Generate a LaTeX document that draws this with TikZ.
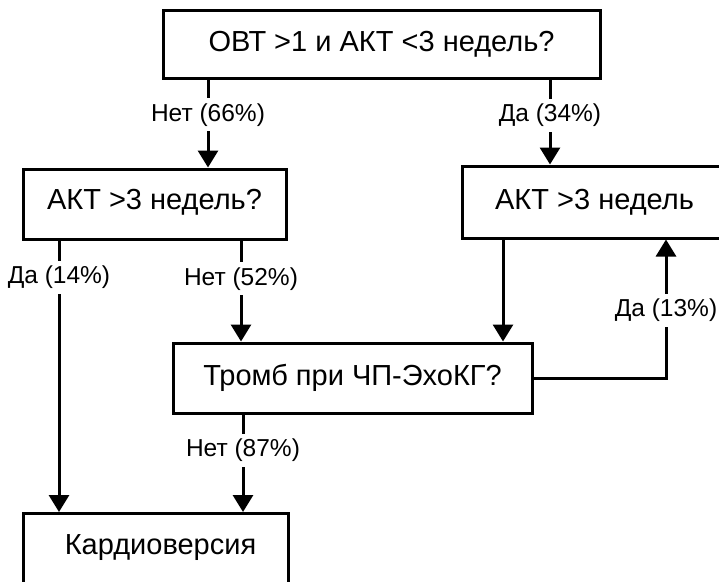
\documentclass[tikz,border=0pt]{standalone}
\usepackage{fontspec}
\setmainfont{Liberation Sans}
\usetikzlibrary{arrows.meta,positioning}

\begin{document}
\begin{tikzpicture}[
    x=1pt, y=-1pt,
    box/.style={draw, line width=3pt, inner sep=0pt, minimum height=70pt, font=\fontsize{29}{33}\selectfont},
    lbl/.style={fill=white, inner sep=5pt, font=\fontsize{24.5}{28}\selectfont},
    arr/.style={-{Triangle[width=20pt,length=17pt]}, line width=3pt}
]
    \useasboundingbox (0,0) rectangle (719,581);
    \node[box, minimum width=437pt, minimum height=68pt] (ovt) at (381.5,44) {ОВТ >1 и АКТ <3 недель?};
    \node[box, minimum width=263pt, text depth=9pt] (akt) at (154.5,204) {АКТ >3 недель?};
    \node[box, minimum width=265pt, minimum height=72pt] (aktda) at (594.5,202) {АКТ >3 недель};
    \node[box, minimum width=359pt] (tromb) at (352.5,378) {Тромб при ЧП-ЭхоКГ?};
    \node[box, minimum width=265pt, minimum height=76pt, text depth=14pt, anchor=north] (kardio) at (155.5,512) {\hspace*{10pt}Кардиоверсия};
    % columns of the arrows
    \coordinate (c1) at (59,0);
    \coordinate (c2) at (208,0);
    \coordinate (c3) at (241,0);
    \coordinate (c4) at (243,0);
    \coordinate (c5) at (503,0);
    \coordinate (c6) at (550,0);
    \coordinate (c7) at (666,0);
    \draw[arr] (ovt.south -| c2) -- node[lbl, pos=0.40] {Нет (66\%)} (akt.north -| c2);
    \draw[arr] (ovt.south -| c6) -- node[lbl, pos=0.42] {Да (34\%)} (aktda.north -| c6);
    \draw[arr] (akt.south -| c1) -- node[lbl, pos=0.135] {Да (14\%)} (kardio.north -| c1);
    \draw[arr] (akt.south -| c3) -- node[lbl, pos=0.38] {Нет (52\%)} (tromb.north -| c3);
    \draw[arr] (aktda.south -| c5) -- (tromb.north -| c5);
    \draw[arr] (tromb.east) -| node[lbl, pos=0.745] {Да (13\%)} (aktda.south -| c7);
    \draw[arr] (tromb.south -| c4) -- node[lbl, pos=0.37] {Нет (87\%)} (kardio.north -| c4);
\end{tikzpicture}
\end{document}
